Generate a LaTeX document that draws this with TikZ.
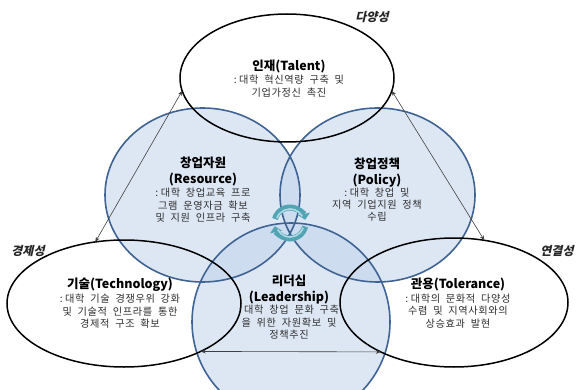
\documentclass[tikz,border=0pt]{standalone}
\usepackage{fontspec}
\setmainfont{Noto Sans CJK KR}
\newfontfamily\descfont{Noto Sans CJK KR}[LetterSpace=6,WordSpace=2]
\newfontfamily\labfont{Noto Sans CJK KR}[FakeSlant=0.22]
\usetikzlibrary{shapes.geometric,arrows.meta}
\definecolor{cblue}{HTML}{3F6493}
\definecolor{cfill}{HTML}{BCD0EA}
\definecolor{ctext}{HTML}{2E2E2E}
\definecolor{cteal}{HTML}{52A3B4}
\definecolor{cteallight}{HTML}{AEDAE3}
\newcommand{\cln}{:\hspace{2.5pt}}
\begin{document}
\begin{tikzpicture}[x=1pt,y=-1pt,
  bigell/.style={ellipse, draw=none, fill=white, inner sep=0pt, outer sep=0pt},
  blueshape/.style={ellipse, draw=none, fill=cfill, fill opacity=0.5, inner sep=0pt, outer sep=0pt},
  blueline/.style={draw=cblue, line width=1.6pt},
  blackline/.style={draw=black, line width=1.5pt},
  ttl/.style={font=\bfseries\fontsize{12.5}{16}\selectfont, align=center, text=black, inner sep=0pt},
  dsc/.style={font=\descfont\fontsize{10.2}{12.3}\selectfont, align=center, text=ctext, inner sep=0pt},
  lab/.style={font=\labfont\bfseries\fontsize{12}{14}\selectfont, text=black!85, inner sep=0pt},
  link/.style={draw=black!75, line width=0.6pt, {Stealth[length=5pt,width=4pt]}-{Stealth[length=5pt,width=4pt]}},
  ring/.style={draw=cteal, line width=6pt}
]
\useasboundingbox (0,0) rectangle (578,390);
% white ellipses
\node[bigell, minimum width=214pt, minimum height=128pt] (talent) at (287,78) {};
\node[bigell, minimum width=234pt, minimum height=127pt] (tech) at (124,303.5) {};
\node[bigell, minimum width=228pt, minimum height=129pt] (tol) at (454,302.5) {};
% blue shapes
\node[blueshape, minimum width=195pt, minimum height=174pt] (res) at (202.5,195) {};
\node[blueshape, minimum width=195pt, minimum height=174pt] (pol) at (377.5,195) {};
\node[blueshape, minimum width=198pt, minimum height=198pt] (lead) at (291,322) {};
% outlines
\draw[blueline] (res.center) ellipse [x radius=97.5pt, y radius=87pt];
\draw[blueline] (pol.center) ellipse [x radius=97.5pt, y radius=87pt];
\draw[blueline] (lead.center) circle [radius=99pt];
\draw[blackline] (talent.center) ellipse [x radius=107pt, y radius=64pt];
\draw[blackline] (tech.center) ellipse [x radius=117pt, y radius=63.5pt];
\draw[blackline] (tol.center) ellipse [x radius=114pt, y radius=64.5pt];
% texts
\node[ttl] (t1) at (289,67) {인재(Talent)};
\node[dsc] (d1) at (289,86.2) {\cln 대학 혁신역량 구축 및\\기업가정신 촉진};
\node[ttl] (t2) at (203,171.3) {창업자원\\(Resource)};
\node[dsc] (d2) at (203,205.3) {\cln 대학 창업교육 프로\\그램 운영자금 확보\\및 지원 인프라 구축};
\node[ttl] (t3) at (377,172.5) {창업정책\\(Policy)};
\node[dsc] (d3) at (377,204.7) {\cln 대학 창업 및\\지역 기업지원 정책\\수립};
\node[ttl] (t4) at (120,285) {기술(Technology)};
\node[dsc] (d4) at (120,311.3) {\cln 대학 기술 경쟁우위 강화\\및 기술적 인프라를 통한\\경제적 구조 확보};
\node[ttl] (t5) at (289,289.2) {리더십\\(Leadership)};
\node[dsc] (d5) at (289,322.2) {\cln 대학 창업 문화 구축\\을 위한 자원확보 및\\정책추진};
\node[ttl] (t6) at (458,285) {관용(Tolerance)};
\node[dsc] (d6) at (458,311) {\cln 대학의 문화적 다양성\\수렴 및 지역사회와의\\상승효과 발현};
% labels
\node[lab] (l1) at (372,17) {다양성};
\node[lab] (l2) at (28,251) {경제성};
\node[lab] (l3) at (557,251) {연결성};
% connectors
\draw[link] (talent.187.7) -- (tech.115.2);
\draw[link] (talent.353.5) -- (tol.64.4);
\draw[link] (tech.-32.7) -- (tol.214.1);
% cycle icon
\begin{scope}[shift={(290,223)}, y=1pt]
  \draw[ring, -{Triangle[length=6pt,width=12pt]}] (165:15.5) arc[start angle=165, end angle=12, radius=15.5pt];
  \draw[ring, -{Triangle[length=6pt,width=12pt]}] (-13:15.5) arc[start angle=-13, end angle=-168, radius=15.5pt];
  \draw[cteallight, line width=1.6pt] (160:14) arc[start angle=160, end angle=28, radius=14pt];
  \draw[cteallight, line width=1.6pt] (-20:14) arc[start angle=-20, end angle=-152, radius=14pt];
\end{scope}
\end{tikzpicture}
\end{document}
